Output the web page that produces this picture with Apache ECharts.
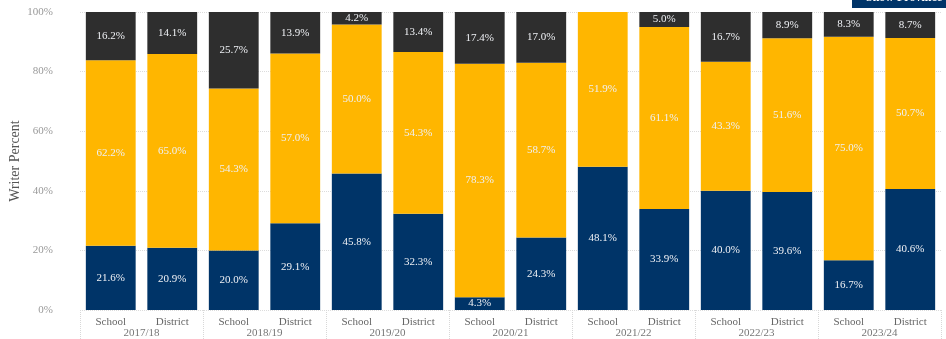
<!DOCTYPE html>
<html>
<head>
<meta charset="utf-8">
<script src="https://cdn.jsdelivr.net/npm/echarts@6/dist/echarts.min.js"></script>
<style>
  html, body { margin: 0; padding: 0; background: #fff; }
  #chart { width: 946px; height: 339px; }
</style>
</head>
<body>
<div id="chart"></div>
<script>
// School years and the two bars shown for each one
var years = ['2017/18', '2018/19', '2019/20', '2020/21', '2021/22', '2022/23', '2023/24'];
var levels = ['School', 'District'];

// Percent of writers per band, School then District for each year
var lowValues  = [21.6, 20.9, 20.0, 29.1, 45.8, 32.3, 4.3, 24.3, 48.1, 33.9, 40.0, 39.6, 16.7, 40.6];
var midValues  = [62.2, 65.0, 54.3, 57.0, 50.0, 54.3, 78.3, 58.7, 51.9, 61.1, 43.3, 51.6, 75.0, 50.7];
var highValues = [16.2, 14.1, 25.7, 13.9, 4.2, 13.4, 17.4, 17.0, 0, 5.0, 16.7, 8.9, 8.3, 8.7];

var yTicks = [0, 20, 40, 60, 80, 100];

var categories = [];
years.forEach(function () { levels.forEach(function (l) { categories.push(l); }); });

var serif = '"Liberation Serif", "DejaVu Serif", serif';

function segLabel() {
  return {
    show: true,
    position: 'inside',
    color: '#eef0f4',
    fontFamily: serif,
    fontSize: 11,
    formatter: function (p) { return p.value > 0 ? p.value.toFixed(1) + '%' : ''; }
  };
}

function barSeries(name, data, color) {
  return {
    name: name,
    type: 'bar',
    stack: 'total',
    xAxisIndex: 0,
    barWidth: '81%',
    itemStyle: { color: color },
    label: segLabel(),
    data: data
  };
}

var chart = echarts.init(document.getElementById('chart'));
chart.setOption({
  animation: false,
  grid: { left: 80, right: 5, top: 12, bottom: 29, outerBoundsMode: 'none', containLabel: false },
  xAxis: [
    {
      type: 'category',
      data: categories,
      position: 'bottom',
      axisLine: { show: false },
      axisTick: { show: false },
      axisLabel: { color: '#666', fontFamily: serif, fontSize: 11, margin: 7, interval: 0 }
    },
    {
      type: 'category',
      data: years,
      position: 'bottom',
      axisLine: { show: false },
      axisTick: { show: true, length: 30, lineStyle: { color: '#d8d8d8', type: 'dotted' } },
      axisLabel: { color: '#777', fontFamily: serif, fontSize: 11, margin: 18, interval: 0 }
    }
  ],
  yAxis: {
    type: 'value',
    min: yTicks[0],
    max: yTicks[yTicks.length - 1],
    interval: 20,
    name: 'Writer Percent',
    nameLocation: 'middle',
    nameGap: 58,
    nameMoveOverlap: false,
    nameTextStyle: { color: '#555', fontFamily: serif, fontSize: 14 },
    axisLine: { show: false },
    axisTick: { show: false },
    axisLabel: { color: '#999', fontFamily: serif, fontSize: 11, margin: 27, formatter: '{value}%' },
    splitLine: { lineStyle: { color: '#dcdcdc', type: 'dotted' } }
  },
  series: [
    barSeries('Low', lowValues, '#003468'),
    barSeries('Middle', midValues, '#ffb600'),
    barSeries('High', highValues, '#2e2e2e')
  ],
  graphic: [
    { type: 'rect', left: 852, top: -11, shape: { width: 100, height: 19 }, style: { fill: '#003468' }, z: 10 },
    {
      type: 'text', left: 866, top: -8, z: 11,
      style: { text: 'Show Province', fill: '#ffffff', font: 'bold 12px ' + serif }
    }
  ]
});
</script>
</body>
</html>
